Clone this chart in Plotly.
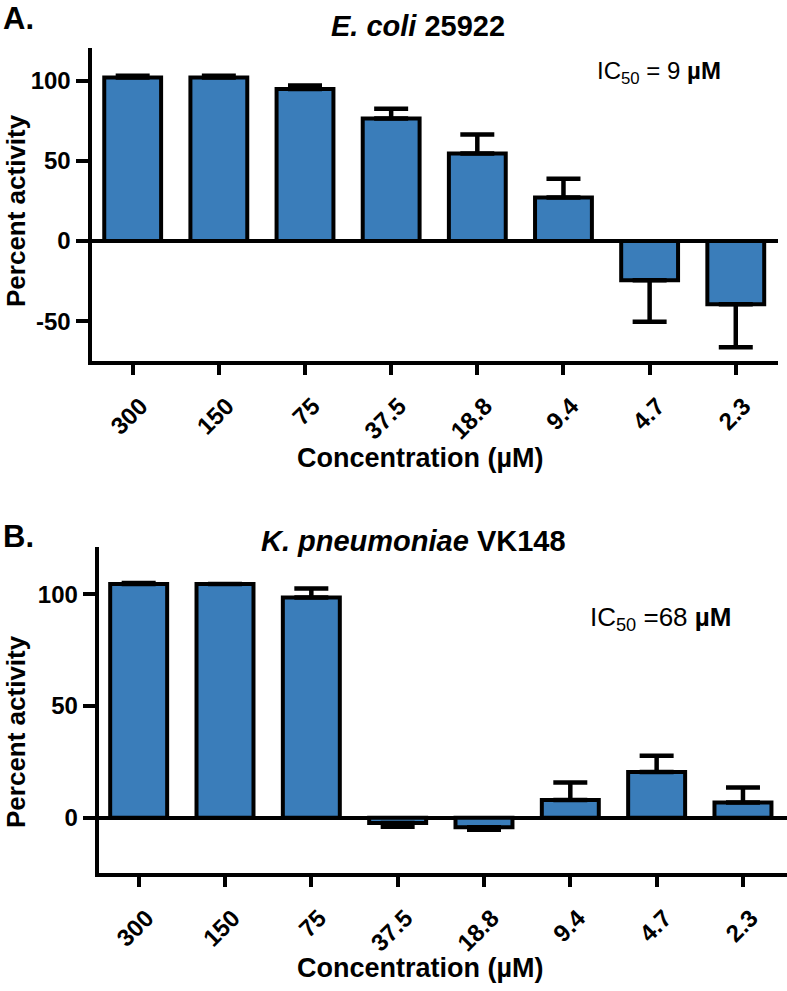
import plotly.graph_objects as go

W, H = 787, 991

conc_labels = ["300", "150", "75", "37.5", "18.8", "9.4", "4.7", "2.3"]
ecoli_mean = [102.2, 102.2, 95.0, 76.6, 54.7, 27.2, -24.4, -39.4]
ecoli_err = [1.0, 1.0, 2.2, 6.0, 11.8, 11.8, 26.0, 27.0]
kpn_mean = [104.6, 104.6, 98.6, -2.4, -4.2, 7.9, 20.5, 6.8]
kpn_err = [0.5, 0.0, 4.0, 1.6, 1.2, 7.9, 7.3, 6.7]

ytick_vals_a = [-50, 0, 50, 100]
ytick_text_a = ["-50", "0", "50", "100"]
ytick_vals_b = [0, 50, 100]
ytick_text_b = ["0", "50", "100"]

FONT = "Liberation Sans, Arial, Helvetica, sans-serif"
BLUE = "#3a7dba"
xpos = list(range(len(conc_labels)))


def px(x):
    return x / W


def py(y):
    return 1 - y / H


def bar_trace(means, errs, xa, ya):
    up = [e if m >= 0 else 0 for m, e in zip(means, errs)]
    down = [0 if m >= 0 else e for m, e in zip(means, errs)]
    return go.Bar(
        x=xpos, y=means, xaxis=xa, yaxis=ya, width=0.66,
        marker=dict(color=BLUE, line=dict(color="black", width=4)),
        error_y=dict(type="data", symmetric=False, array=up, arrayminus=down,
                     color="black", thickness=4.5, width=17),
        showlegend=False, hoverinfo="skip",
    )


fig = go.Figure()
fig.add_trace(bar_trace(ecoli_mean, ecoli_err, "x", "y"))
fig.add_trace(bar_trace(kpn_mean, kpn_err, "x2", "y2"))

common_x = dict(
    tickmode="array", tickvals=xpos, ticktext=conc_labels, tickangle=-45,
    showline=True, linecolor="black", linewidth=4,
    ticks="outside", ticklen=10, tickwidth=4, tickcolor="black",
    tickfont=dict(family=FONT, size=24, color="black", weight="bold"),
    ticklabelstandoff=8, ticklabelshift=8,
    showgrid=False, zeroline=False, fixedrange=True,
)
common_y = dict(
    showline=True, linecolor="black", linewidth=4,
    ticks="outside", ticklen=12, tickwidth=4, tickcolor="black",
    tickfont=dict(family=FONT, size=24, color="black", weight="bold"),
    showgrid=False, zeroline=True, zerolinecolor="black", zerolinewidth=4,
    tickmode="array", fixedrange=True,
)

fig.update_layout(
    width=W, height=H,
    margin=dict(l=0, r=0, t=0, b=0),
    paper_bgcolor="white", plot_bgcolor="white",
    xaxis=dict(common_x, domain=[px(91.5), px(778)], range=[-0.478, 7.49], anchor="y"),
    yaxis=dict(common_y, domain=[py(360.5), py(48)], range=[-74.6, 120.6],
               tickvals=ytick_vals_a, ticktext=ytick_text_a, anchor="x"),
    xaxis2=dict(common_x, domain=[px(98.7), 1.0], range=[-0.463, 7.51], anchor="y2"),
    yaxis2=dict(common_y, domain=[py(872.5), py(546.7)], range=[-24.5, 121.3],
                tickvals=ytick_vals_b, ticktext=ytick_text_b, anchor="x2"),
)


def ann(text, x, y, size, xanchor="center", yanchor="middle", angle=0, bold=False):
    fig.add_annotation(
        text=text, x=px(x), y=py(y), xref="paper", yref="paper",
        xanchor=xanchor, yanchor=yanchor, showarrow=False, textangle=angle,
        font=dict(family=FONT, size=size, color="black", weight="bold" if bold else "normal"),
    )


# Panel letters and titles
ann("A.", 1, 18, 31, xanchor="left", bold=True)
ann("<i>E. coli</i> 25922", 417.5, 26, 29, bold=True)
ann("B.", 1, 536, 31, xanchor="left", bold=True)
ann("<i>K. pneumoniae</i> VK148", 413.7, 541, 29, bold=True)

# IC50 labels
ann("IC<sub>50</sub> = 9 <b>µM</b>", 595, 72, 24, xanchor="left")
ann("IC<sub>50</sub> =68 <b>µM</b>", 588, 618, 26, xanchor="left")

# Axis titles
ann("Percent activity", 16, 211, 26, angle=-90, bold=True)
ann("Concentration (µM)", 420.5, 458, 27, bold=True)
ann("Percent activity", 16, 732, 26, angle=-90, bold=True)
ann("Concentration (µM)", 420, 968, 27, bold=True)

fig.write_html("out.html", config={"displayModeBar": False, "staticPlot": True},
               post_script="document.body.style.margin='0';")
